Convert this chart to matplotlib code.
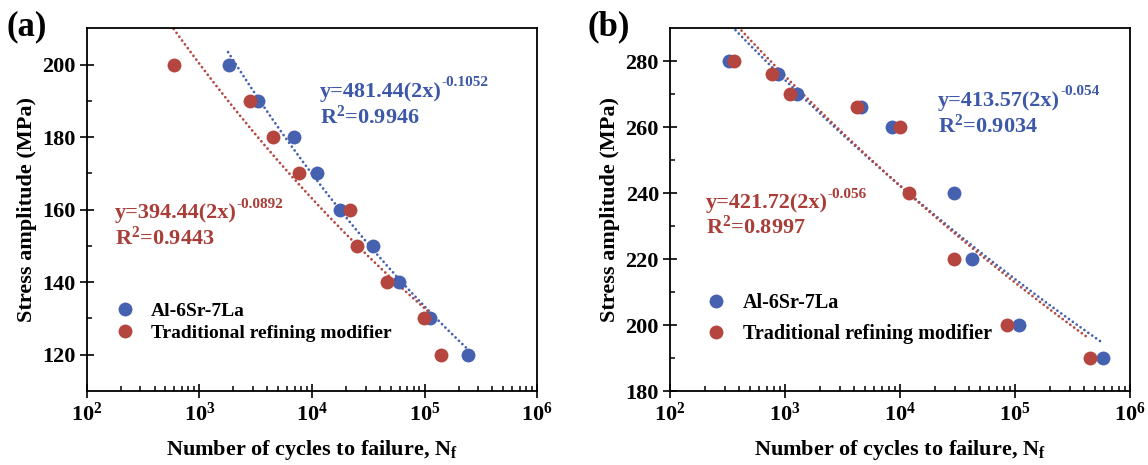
import numpy as np
import matplotlib
matplotlib.use("Agg")
import matplotlib.pyplot as plt
from matplotlib.ticker import FixedLocator, FuncFormatter, LogLocator, NullFormatter
from matplotlib.lines import Line2D

plt.rcParams['font.family'] = ['Liberation Serif', 'DejaVu Serif']
plt.rcParams['font.weight'] = 'bold'
plt.rcParams['mathtext.fontset'] = 'custom'
plt.rcParams['mathtext.rm'] = 'Liberation Serif:bold'
plt.rcParams['mathtext.bf'] = 'Liberation Serif:bold'
plt.rcParams['mathtext.it'] = 'Liberation Serif:bold'
plt.rcParams['mathtext.default'] = 'bf'

# ---------------- data ----------------
series_labels = ["Al-6Sr-7La", "Traditional refining modifier"]

# panel (a)
a_stress = [200, 190, 180, 170, 160, 150, 140, 130, 120]
a_cycles_alsr = [1840, 3330, 6900, 11100, 17900, 34900, 59400, 112700, 241600]
a_cycles_trad = [590, 2790, 4500, 7600, 21600, 24900, 46200, 98400, 141000]
a_fit_alsr = (481.44, "-0.1052", 0.9946)
a_fit_trad = (394.44, "-0.0892", 0.9443)

# panel (b)
b_stress_alsr = [280, 276, 270, 266, 260, 240, 220, 200, 190]
b_cycles_alsr = [328, 870, 1280, 4540, 8500, 29300, 42300, 108900, 579000]
b_stress_trad = [280, 276, 270, 266, 260, 240, 220, 200, 190]
b_cycles_trad = [357, 778, 1100, 4250, 9950, 11900, 29300, 85200, 444800]
b_fit_alsr = (413.57, "-0.054", 0.9034)
b_fit_trad = (421.72, "-0.056", 0.8997)

BLUE = "#4661b0"
RED = "#b5463f"
BLUE_T = "#3d58a8"
RED_T = "#a93d38"

W, H = 1148, 465
fig = plt.figure(figsize=(W / 100, H / 100), dpi=100)

def px_ax(l, r, t, b):
    return fig.add_axes([l / W, 1 - b / H, (r - l) / W, (b - t) / H])

axA = px_ax(86.7, 537.3, 28.3, 391)
axB = px_ax(670, 1130, 28.3, 391)

FS = 16
LFS = 16

def fmt_log(v, pos):
    e = int(round(np.log10(v)))
    return r"$\mathbf{10^{%d}}$" % e

def style(ax, ylim, yticks, yminor):
    ax.set_xscale('log')
    ax.set_xlim(1e2, 1e6)
    ax.set_ylim(*ylim)
    ax.xaxis.set_major_locator(FixedLocator([1e2, 1e3, 1e4, 1e5, 1e6]))
    ax.xaxis.set_major_formatter(FuncFormatter(fmt_log))
    ax.xaxis.set_minor_locator(LogLocator(base=10, subs=np.arange(2, 10)))
    ax.xaxis.set_minor_formatter(NullFormatter())
    ax.yaxis.set_major_locator(FixedLocator(yticks))
    ax.yaxis.set_minor_locator(FixedLocator(yminor))
    ax.tick_params(which='major', direction='inout', length=10, width=1.2,
                   labelsize=FS, pad=3, top=False, right=False)
    ax.tick_params(which='minor', direction='in', length=3.5, width=1.1,
                   top=False, right=False)
    for s in ax.spines.values():
        s.set_linewidth(1.3)
    ax.set_xlabel(r"Number of cycles to failure, N$_\mathbf{f}$", fontsize=LFS,
                  fontweight='bold', labelpad=9)
    ax.set_ylabel("Stress amplitude (MPa)", fontsize=LFS, fontweight='bold', labelpad=4)

def fit_line(ax, fit, x0, x1, color):
    A, b, _ = fit
    b = float(b)
    x = np.geomspace(x0, x1, 300)
    ax.plot(x, A * (2 * x) ** b, color=color, lw=2.0, linestyle=(0, (0.01, 1.7)),
            dash_capstyle='round', zorder=2)

def eq_text(ax, fit, x, y, y2, color):
    A, b, r2 = fit
    t = ax.text(x, y, "y=%.2f(2x)" % A, transform=ax.transAxes, color=color,
                fontsize=LFS, fontweight='bold', va='center', ha='left')
    ax.annotate(b, xy=(1.0, 0.62), xycoords=t, color=color, fontsize=11,
                fontweight='bold', va='bottom', ha='left')
    ax.text(x, y2, r"R$^\mathbf{2}$=%.4f" % r2, transform=ax.transAxes, color=color,
            fontsize=LFS, fontweight='bold', va='center', ha='left')

# ---- panel (a)
style(axA, (110, 210), [120, 140, 160, 180, 200], [130, 150, 170, 190])
fit_line(axA, a_fit_alsr, 1.8e3, 2.45e5, BLUE)
fit_line(axA, a_fit_trad, 4.0e2, 1.2e5, RED)
axA.plot(a_cycles_alsr, a_stress, 'o', color=BLUE, ms=10, mec='none', zorder=3)
axA.plot(a_cycles_trad, a_stress, 'o', color=RED, ms=10, mec='none', zorder=4)
eq_text(axA, a_fit_alsr, 0.518, 0.825, 0.754, BLUE_T)
eq_text(axA, a_fit_trad, 0.063, 0.490, 0.421, RED_T)

# ---- panel (b)
style(axB, (180, 290), [180, 200, 220, 240, 260, 280], [190, 210, 230, 250, 270])
fit_line(axB, b_fit_alsr, 2.5e2, 5.9e5, BLUE)
fit_line(axB, b_fit_trad, 2.5e2, 4.4e5, RED)
axB.plot(b_cycles_alsr, b_stress_alsr, 'o', color=BLUE, ms=10, mec='none', zorder=3)
axB.plot(b_cycles_trad, b_stress_trad, 'o', color=RED, ms=10, mec='none', zorder=4)
eq_text(axB, b_fit_alsr, 0.583, 0.800, 0.731, BLUE_T)
eq_text(axB, b_fit_trad, 0.078, 0.5175, 0.451, RED_T)

def legend(ax, x, y, spacing, fs):
    handles = [Line2D([], [], marker='o', ls='none', color=BLUE, ms=10, mec='none'),
               Line2D([], [], marker='o', ls='none', color=RED, ms=10, mec='none')]
    ax.legend(handles, series_labels, loc='lower left', bbox_to_anchor=(x, y),
              frameon=False, prop={'weight': 'bold', 'size': fs},
              handlelength=1.0, handletextpad=0.85, labelspacing=spacing,
              borderpad=0, borderaxespad=0)

legend(axA, 0.063, 0.135, 0.25, 14)
legend(axB, 0.078, 0.13, 0.55, 14.5)

fig.text(27 / W, 1 - 27 / H, "(a)", fontsize=25, fontweight='bold', ha='center', va='center')
fig.text(609 / W, 1 - 27 / H, "(b)", fontsize=25, fontweight='bold', ha='center', va='center')

fig.savefig("out.png", dpi=100)
